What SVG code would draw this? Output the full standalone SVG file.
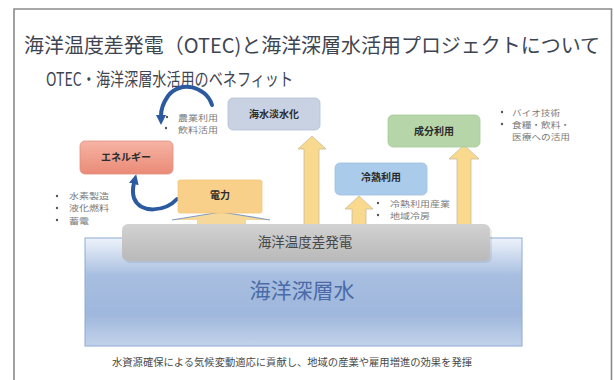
<svg xmlns="http://www.w3.org/2000/svg" width="614" height="380" viewBox="0 0 614 380">
<defs>
<style>
text{font-family:"Noto Sans CJK JP","Noto Sans",sans-serif;}
.ttl{fill:#3e4552;}
.box{stroke-width:0.8;}
.bl{font-size:10px;font-weight:bold;fill:#2b2b2b;text-anchor:middle;}
.bul{font-size:8.4px;fill:#7a7a7a;}
.dot{fill:#555;}
.blk{fill:#f8d98e;stroke:#c9bc9a;stroke-width:0.8;}
.curve{fill:none;stroke:#2c5aa0;stroke-width:4;stroke-linecap:round;}
</style>
<linearGradient id="gWater" x1="0" y1="0" x2="0" y2="1">
<stop offset="0" stop-color="#eef3fa"/>
<stop offset="0.35" stop-color="#a7bee0"/>
<stop offset="0.7" stop-color="#9fb7dc"/>
<stop offset="1" stop-color="#c2d2ea"/>
</linearGradient>
<linearGradient id="gBar" x1="0" y1="0" x2="0" y2="1">
<stop offset="0" stop-color="#d2d2d2"/>
<stop offset="1" stop-color="#b9b9b9"/>
</linearGradient>
<linearGradient id="gEnergy" x1="0" y1="0" x2="0" y2="1">
<stop offset="0" stop-color="#f6b4a4"/>
<stop offset="1" stop-color="#ea8a77"/>
</linearGradient>
<marker id="ah" viewBox="0 0 10 10" refX="1" refY="5" markerWidth="10" markerHeight="10" markerUnits="userSpaceOnUse" orient="auto">
<path d="M0,0 L10,5 L0,10 z" fill="#2c5aa0"/>
</marker>
</defs>
<rect width="614" height="380" fill="#ffffff"/>
<path d="M14,380 V9 H611.5 V380" fill="none" stroke="#8a8a8a" stroke-width="1.6"/>

<g id="title">
<text class="ttl" x="24" y="53" font-size="20" textLength="576" lengthAdjust="spacingAndGlyphs">海洋温度差発電（OTEC)と海洋深層水活用プロジェクトについて</text>
<text class="ttl" x="46" y="86" font-size="18" textLength="247" lengthAdjust="spacingAndGlyphs">OTEC・海洋深層水活用のベネフィット</text>
</g>

<g id="deep-water">
<rect x="85" y="238" width="437" height="108" fill="url(#gWater)" stroke="#8eaad6" stroke-width="1"/>
<text x="302" y="298" font-size="21" fill="#4b6ba8" text-anchor="middle">海洋深層水</text>
</g>

<g id="connectors">
<path class="blk" d="M312,136 L326,149 L319,149 L319,227 L304,227 L304,149 L298,149 Z"/>
<path class="blk" d="M359,196 L373,209 L366,209 L366,227 L352,227 L352,209 L345,209 Z"/>
<path class="blk" d="M464,145 L479,159 L471,159 L471,227 L457,227 L457,159 L449,159 Z"/>
<path d="M221,212 L270,220 L246,220 L246,227 L197,227 L197,220 L172,220 Z" fill="#f6d99a"/>
<path d="M172,220 L221,212 L270,220" fill="none" stroke="#7f9cc5" stroke-width="1.2"/>
<path class="curve" d="M212,105 C206,86 180,80 168,96 C163,103 161,110 161,116" marker-end="url(#ah)"/>
<path class="curve" d="M177,199 C165,212 140,214 134,198 C132,192 133,187 134,183" marker-end="url(#ah)"/>
</g>

<g id="otec">
<rect x="124" y="226" width="368" height="37" rx="6" fill="#000" opacity="0.08"/>
<rect x="122" y="224" width="368" height="37" rx="6" fill="url(#gBar)"/>
<text x="305" y="247" font-size="13.5" fill="#474747" text-anchor="middle">海洋温度差発電</text>
</g>

<g id="desalination">
<rect class="box" x="228" y="98" width="92" height="32" rx="5" fill="#c8d2e3" stroke="#b3c0d6"/>
<text class="bl" x="274" y="117.5">海水淡水化</text>
</g>

<g id="agri-list">
<circle class="dot" cx="167" cy="117" r="1.2"/>
<circle class="dot" cx="166" cy="128" r="1.2"/>
<text class="bul" x="178" y="120.5" textLength="40" lengthAdjust="spacingAndGlyphs">農業利用</text>
<text class="bul" x="178" y="132.5" textLength="40" lengthAdjust="spacingAndGlyphs">飲料活用</text>
</g>

<g id="energy">
<rect class="box" x="80" y="141" width="93" height="33" rx="5" fill="url(#gEnergy)" stroke="#e0907e"/>
<text class="bl" x="126" y="161">エネルギー</text>
</g>

<g id="energy-list">
<circle class="dot" cx="57" cy="196" r="1.2"/>
<circle class="dot" cx="57" cy="208" r="1.2"/>
<circle class="dot" cx="57" cy="220" r="1.2"/>
<text class="bul" x="69" y="199" textLength="40" lengthAdjust="spacingAndGlyphs">水素製造</text>
<text class="bul" x="69" y="211" textLength="40" lengthAdjust="spacingAndGlyphs">液化燃料</text>
<text class="bul" x="69" y="223.5" textLength="20" lengthAdjust="spacingAndGlyphs">蓄電</text>
</g>

<g id="power">
<rect class="box" x="178" y="180" width="84" height="33" rx="2" fill="#f9d08a" stroke="#f3c679"/>
<text class="bl" x="220" y="199">電力</text>
</g>

<g id="cold">
<rect class="box" x="335" y="163" width="92" height="32" rx="5" fill="#aacbea" stroke="#9dbfe2"/>
<text class="bl" x="381" y="181">冷熱利用</text>
</g>

<g id="cold-list">
<circle class="dot" cx="378" cy="203" r="1.2"/>
<circle class="dot" cx="378" cy="215" r="1.2"/>
<text class="bul" x="390" y="206.5" textLength="60" lengthAdjust="spacingAndGlyphs">冷熱利用産業</text>
<text class="bul" x="390" y="218.5" textLength="40" lengthAdjust="spacingAndGlyphs">地域冷房</text>
</g>

<g id="component">
<rect class="box" x="388" y="115" width="92" height="32" rx="5" fill="#b6d6a9" stroke="#a6cb97"/>
<text class="bl" x="434" y="134.5">成分利用</text>
</g>

<g id="component-list">
<circle class="dot" cx="502" cy="112" r="1.2"/>
<circle class="dot" cx="502" cy="124" r="1.2"/>
<text class="bul" x="512" y="115.5" textLength="48" lengthAdjust="spacingAndGlyphs">バイオ技術</text>
<text class="bul" x="512" y="127.5" textLength="58" lengthAdjust="spacingAndGlyphs">食糧・飲料・</text>
<text class="bul" x="512" y="139.5" textLength="58" lengthAdjust="spacingAndGlyphs">医療への活用</text>
</g>

<g id="footer">
<text x="292" y="366" font-size="9.8" fill="#4a4a4a" text-anchor="middle" textLength="360" lengthAdjust="spacingAndGlyphs">水資源確保による気候変動適応に貢献し、地域の産業や雇用増進の効果を発揮</text>
</g>
</svg>
